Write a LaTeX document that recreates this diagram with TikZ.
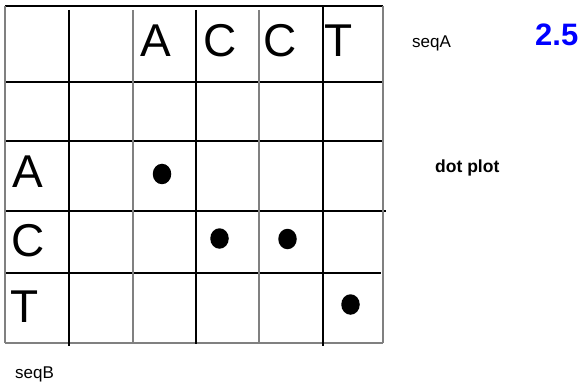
\documentclass[tikz,border=0pt]{standalone}
\usepackage{fontspec}
\setmainfont{Liberation Sans}
\definecolor{gridgray}{RGB}{128,128,128}
\definecolor{numblue}{RGB}{0,0,255}
\tikzset{
  bline/.style={draw=black,line width=1.1pt},
  gline/.style={draw=gridgray,line width=1.5pt},
  bigletter/.style={font=\fontsize{46}{46}\selectfont,inner sep=0pt,anchor=base},
  smalltext/.style={font=\fontsize{17}{17}\selectfont,inner sep=0pt,anchor=base west},
  dotm/.style={ellipse,fill=black,inner sep=0pt,minimum width=18.5pt,minimum height=20.5pt},
}
\usetikzlibrary{shapes.geometric}
\begin{document}
\begin{tikzpicture}[x=1pt,y=-1pt]
\useasboundingbox (0,0) rectangle (580,387);
\fill[white] (0,0) rectangle (580,387);
% horizontal lines
\draw[bline] (5,6) -- (383,6);
\draw[bline] (5,82) -- (383,82);
\draw[bline] (5,141) -- (383,141);
\draw[bline] (5,211) -- (386,211);
\draw[bline] (5,273) -- (381,273);
\draw[gline] (5,343) -- (383,343);
% vertical lines
\draw[gline] (5,6) -- (5,343);
\draw[bline] (69,10) -- (69,346);
\draw[gline] (133,10) -- (133,344);
\draw[bline] (196,10) -- (196,344);
\draw[gline] (259,10) -- (259,344);
\draw[bline] (323,6) -- (323,346);
\draw[gline] (383,6) -- (383,343);
% sequence letters
\node[bigletter] (ta) at (156,57) {A};
\node[bigletter] (tc1) at (220,57) {C};
\node[bigletter] (tc2) at (280,57) {C};
\node[bigletter] (tt) at (339,57) {T};
\node[bigletter] (ra) at (27.5,188) {A};
\node[bigletter] (rc) at (28,256) {C};
\node[bigletter] (rt) at (25,322) {T};
% dots
\node[dotm] (d1) at (162,174) {};
\node[dotm] (d2) at (219.5,238.5) {};
\node[dotm] (d3) at (287.5,239) {};
\node[dotm] (d4) at (350.5,304.5) {};
% labels
\node[smalltext] (seqa) at (412,48) {seqA};
\node[smalltext] (seqb) at (15,378) {seqB};
\node[smalltext,font=\fontsize{17.5}{17.5}\selectfont\bfseries] (dp) at (435,173) {dot plot};
\node[inner sep=0pt,anchor=base west,text=numblue,font=\fontsize{31}{31}\selectfont\bfseries] (num) at (535,46) {2.5};
\end{tikzpicture}
\end{document}
